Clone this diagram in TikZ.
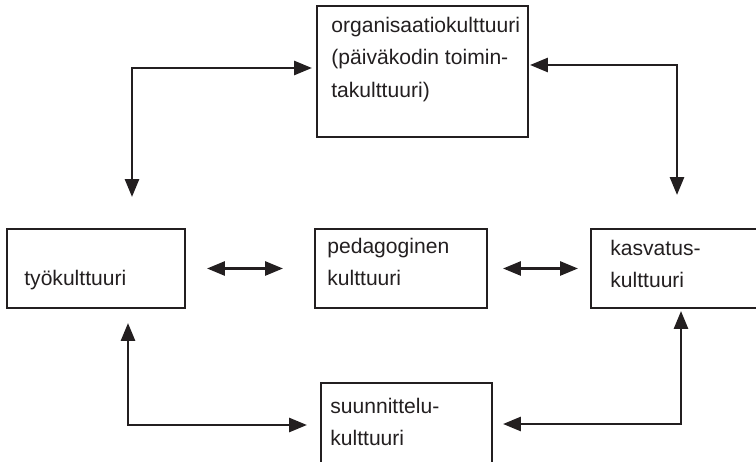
\documentclass[tikz,border=0pt]{standalone}
\usepackage{fontspec}
\setsansfont{Liberation Sans}
\usepackage{tikz}
\usetikzlibrary{arrows.meta,positioning}
\definecolor{ink}{HTML}{231F20}
\tikzset{
  box/.style={draw=ink,line width=1.1pt,inner sep=0pt,outer sep=0pt,anchor=north west,minimum height=1.58cm},
  txt/.style={inner sep=0pt,align=left,text=ink,font=\sffamily\fontsize{12}{18.5}\selectfont},
  link/.style={{Triangle[length=3.6mm,width=2.8mm]}-{Triangle[length=3.6mm,width=2.8mm]},line width=1.6pt,draw=ink},
}
\begin{document}
\begin{tikzpicture}[x=0.02cm,y=-0.02cm]
  \useasboundingbox (0,0) rectangle (756,462);
  % boxes
  \node[box,minimum width=4.22cm,minimum height=2.62cm] (org) at (317,6)   {};
  \node[box,minimum width=3.56cm] (tyo) at (7,229)   {};
  \node[box,minimum width=3.44cm] (ped) at (315,229) {};
  \node[box,minimum width=3.36cm] (kas) at (591,229) {};
  \node[box,minimum width=3.42cm,minimum height=1.6cm] (suu) at (321,383) {};
  % texts
  \node[txt,below right=0.064cm and 0.28cm of org.north west] (orgt) {\strut organisaatiokulttuuri\\(päiväkodin toimin-\\takulttuuri)};
  \node[txt,below right=0.664cm and 0.34cm of tyo.north west] (tyot) {\strut työkulttuuri};
  \node[txt,below right=0.024cm and 0.24cm of ped.north west] (pedt) {\strut pedagoginen\\kulttuuri};
  \node[txt,below right=0.064cm and 0.38cm of kas.north west] (kast) {\strut kasvatus-\\kulttuuri};
  \node[txt,below right=0.144cm and 0.18cm of suu.north west] (suut) {\strut suunnittelu-\\kulttuuri};
  % corners
  \coordinate (c1) at (132,68);
  \coordinate (c2) at (677,65);
  \coordinate (c3) at (128,425);
  \coordinate (c4) at (681,424);
  % connectors
  \draw[link,shorten <=0.64cm,shorten >=0.1cm] (tyo.north -| c1) -- (c1) -- (org.west |- c1);
  \draw[link,shorten <=0.04cm,shorten >=0.68cm] (org.east |- c2) -- (c2) -- (kas.north -| c2);
  \draw[link,shorten <=0.3cm,shorten >=0.28cm] (tyo.south -| c3) -- (c3) -- (suu.west |- c3);
  \draw[link,shorten <=0.06cm,shorten >=0.22cm] (kas.south -| c4) -- (c4) -- (suu.east |- c4);
  \draw[link,shorten <=0.44cm,shorten >=0.64cm] (tyo.east) -- (ped.west);
  \draw[link,shorten <=0.32cm,shorten >=0.26cm] (ped.east) -- (kas.west);
\end{tikzpicture}
\end{document}
